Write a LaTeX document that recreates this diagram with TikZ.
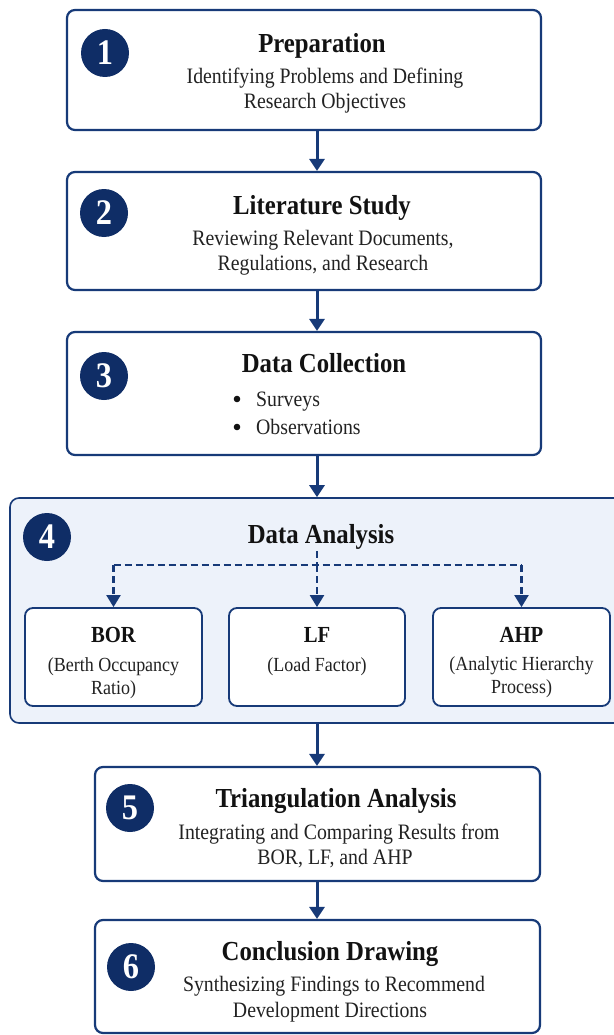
\documentclass[tikz,border=0pt]{standalone}
\usepackage{fontspec}
\setmainfont{Liberation Serif}[FakeStretch=0.9]
\usetikzlibrary{arrows.meta}
\definecolor{navy}{HTML}{173A78}
\definecolor{badge}{HTML}{0F2D66}
\definecolor{panel}{HTML}{EDF2FA}
\definecolor{ink}{HTML}{121212}
\definecolor{subink}{HTML}{222222}

\begin{document}
\begin{tikzpicture}[x=1pt,y=-1pt,
  stepbox/.style={draw=navy, line width=2.2pt, fill=white, rounded corners=8pt, inner sep=0pt},
  panelbox/.style={draw=navy, line width=1.6pt, fill=panel, rounded corners=9pt, inner sep=0pt},
  subbox/.style={draw=navy, line width=1.8pt, fill=white, rounded corners=8pt, inner sep=0pt,
    minimum width=176pt, minimum height=98pt},
  badgecircle/.style={circle, fill=badge, minimum size=48pt, inner sep=0pt,
    text=white, font=\fontsize{36}{36}\selectfont\bfseries},
  headline/.style={anchor=base, text=ink, inner sep=0pt, font=\fontsize{27.5}{27.5}\selectfont\bfseries},
  descline/.style={anchor=base, text=subink, inner sep=0pt, font=\fontsize{22}{22}\selectfont},
  subhead/.style={anchor=base, text=ink, inner sep=0pt, font=\fontsize{23}{23}\selectfont\bfseries},
  subdesc/.style={anchor=base, text=subink, inner sep=0pt, font=\fontsize{20}{20}\selectfont},
  flow/.style={draw=navy, line width=3pt, -{Triangle[length=12pt,width=15pt]}},
  branch/.style={draw=navy, line width=2.2pt, dash pattern=on 7pt off 4pt,
    -{Triangle[length=12pt,width=14pt]}}
]
\useasboundingbox (0,0) rectangle (613,1035);
\fill[white] (0,0) rectangle (613,1035);

% vertical spine of the main flow
\coordinate (spine) at (317,0);

% ---- step 1
\node[stepbox, minimum width=474pt, minimum height=120pt] (b1) at (304,70) {};
\node[badgecircle] (n1) at (105,53) {1};
\node[headline] (t1) at (322,53) {Preparation};
\node[descline] (d1a) at (325,84) {Identifying Problems and Defining};
\node[descline] (d1b) at (325,109) {Research Objectives};

% ---- step 2
\node[stepbox, minimum width=474pt, minimum height=118pt] (b2) at (304,231) {};
\node[badgecircle] (n2) at (104,213) {2};
\node[headline] (t2) at (322,214) {Literature Study};
\node[descline] (d2a) at (323,245) {Reviewing Relevant Documents,};
\node[descline] (d2b) at (323,270) {Regulations, and Research};

% ---- step 3
\node[stepbox, minimum width=474pt, minimum height=123pt] (b3) at (304,393.5) {};
\node[badgecircle] (n3) at (104,376) {3};
\node[headline] (t3) at (324,372) {Data Collection};
\node[descline, anchor=base west] (d3a) at (256,406) {Surveys};
\node[descline, anchor=base west] (d3b) at (256,434) {Observations};
\fill[ink] (237,399) circle (3.3pt);
\fill[ink] (237,427) circle (3.3pt);

% ---- step 4 (panel with three methods)
\node[panelbox, minimum width=614pt, minimum height=225pt] (b4) at (317,610.5) {};
\node[badgecircle] (n4) at (47,537) {4};
\node[headline] (t4) at (321,543) {Data Analysis};

\node[subbox, minimum width=177pt] (bor) at (113.5,657) {};
\node[subbox] (lf) at (317,657) {};
\node[subbox, minimum width=177pt] (ahp) at (521.5,657) {};

\node[subhead] (borT) at (113.5,642) {BOR};
\node[subdesc] (borA) at (113.5,671) {(Berth Occupancy};
\node[subdesc] (borB) at (113.5,694) {Ratio)};
\node[subhead] (lfT) at (317,642) {LF};
\node[subdesc] (lfA) at (317,671) {(Load Factor)};
\node[subhead] (ahpT) at (521.5,642) {AHP};
\node[subdesc] (ahpA) at (521.5,670) {(Analytic Hierarchy};
\node[subdesc] (ahpB) at (521.5,693) {Process)};

% dashed branching from the heading to the three methods
\coordinate (fork) at (317,565);
\coordinate (forkL) at (113.5,565);
\coordinate (forkR) at (521.5,565);
\draw[draw=navy, line width=2.2pt, dash pattern=on 7pt off 4pt] (317,551) -- (fork);
\draw[draw=navy, line width=2.2pt, dash pattern=on 7pt off 4pt] (forkL) -- (forkR);
\draw[branch] (forkL) -- (bor.north);
\draw[branch] (fork) -- (lf.north);
\draw[branch] (forkR) -- (ahp.north);

% ---- step 5
\node[stepbox, minimum width=445pt, minimum height=114pt] (b5) at (317.5,824) {};
\node[badgecircle] (n5) at (130,808) {5};
\node[headline] (t5) at (336,807) {Triangulation Analysis};
\node[descline] (d5a) at (339,839) {Integrating and Comparing Results from};
\node[descline] (d5b) at (335,864) {BOR, LF, and AHP};

% ---- step 6
\node[stepbox, minimum width=445pt, minimum height=113pt] (b6) at (317.5,976.5) {};
\node[badgecircle] (n6) at (131,967) {6};
\node[headline] (t6) at (330,960) {Conclusion Drawing};
\node[descline] (d6a) at (334,991) {Synthesizing Findings to Recommend};
\node[descline] (d6b) at (330,1017) {Development Directions};

% ---- main flow connectors
\draw[flow] (b1.south -| spine) -- (b2.north -| spine);
\draw[flow] (b2.south -| spine) -- (b3.north -| spine);
\draw[flow] (b3.south -| spine) -- (b4.north -| spine);
\draw[flow] (b4.south -| spine) -- (b5.north -| spine);
\draw[flow] (b5.south -| spine) -- (b6.north -| spine);
\end{tikzpicture}
\end{document}
